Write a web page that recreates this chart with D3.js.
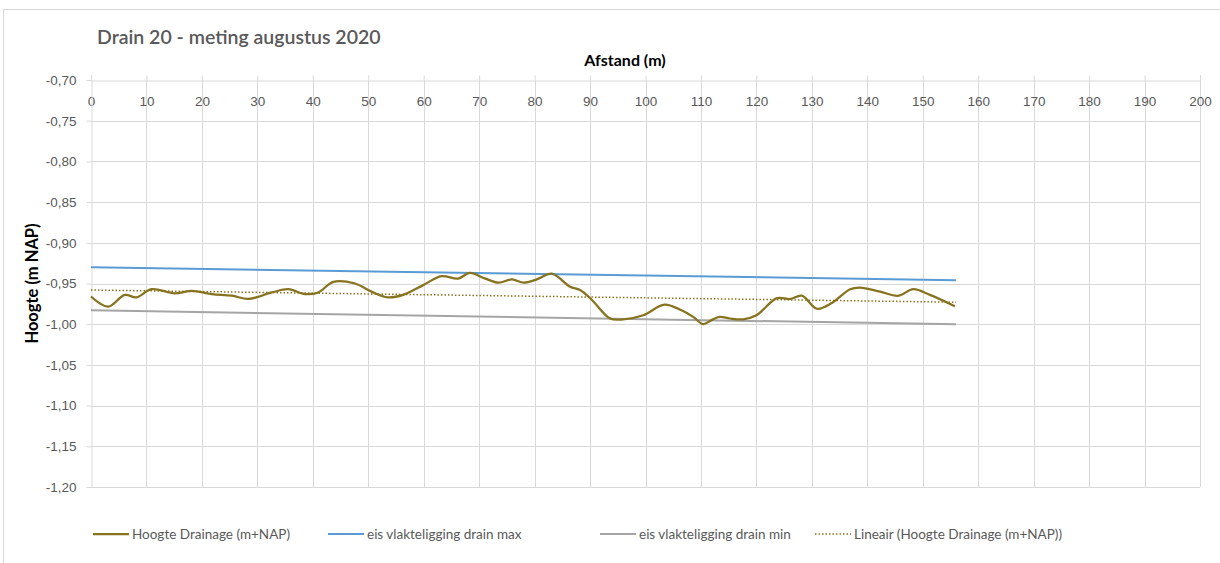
<!DOCTYPE html>
<html>
<head>
<meta charset="utf-8">
<script src="https://cdn.jsdelivr.net/npm/d3@7"></script>
<style>
  body { margin: 0; background: #fff; }
  svg { font-family: Lato, "Open Sans", sans-serif; }
</style>
</head>
<body>
<div id="chart"></div>
<script>
// measured drain profile (afstand in m, hoogte in m NAP)
const afstand = [0, 3.1, 6.1, 8.2, 10.9, 15.1, 18.2, 21.8, 25.4, 28.4, 32.6, 35.6, 38.6, 41, 43.7, 47.6,
  50.6, 53.5, 56.3, 59.9, 63.2, 66.2, 68.3, 71.1, 73.5, 75.9, 78, 80.4, 83.1, 86.4, 88.2, 90.3, 93.6,
  96, 99.6, 103.4, 106.2, 108.6, 110.4, 111.9, 113.4, 115.2, 117.6, 120, 123.7, 126.1, 128.2, 130.9,
  133.6, 136.9, 138.7, 142.3, 145.6, 148.3, 151.3, 155.8];
const hoogte = [-0.966, -0.9785, -0.964, -0.967, -0.957, -0.962, -0.959, -0.963, -0.965, -0.969, -0.961,
  -0.957, -0.963, -0.961, -0.948, -0.950, -0.960, -0.967, -0.964, -0.952, -0.941, -0.944, -0.937,
  -0.944, -0.949, -0.945, -0.949, -0.945, -0.938, -0.954, -0.958, -0.970, -0.993, -0.994, -0.989,
  -0.976, -0.982, -0.991, -1.000, -0.995, -0.991, -0.993, -0.994, -0.989, -0.968, -0.969, -0.965,
  -0.981, -0.974, -0.957, -0.955, -0.960, -0.965, -0.957, -0.964, -0.978];

const eisX = [0, 156];
const eisMax = [-0.930, -0.946];
const eisMin = [-0.983, -1.000];
const trendX = [0, 156];
const trendY = [-0.958, -0.973];

const xTicks = d3.range(0, 201, 10);
const yTicks = [-0.70, -0.75, -0.80, -0.85, -0.90, -0.95, -1.00, -1.05, -1.10, -1.15, -1.20];

const legendLabels = ['Hoogte Drainage (m+NAP)', 'eis vlakteligging drain max',
  'eis vlakteligging drain min', 'Lineair (Hoogte Drainage (m+NAP))'];

const olive = '#87731f';
const blue = '#5b9bd5';
const grey = '#a5a5a5';
const gridColor = '#d9d9d9';
const textColor = '#595959';

const outerWidth = 1220;
const outerHeight = 563;
const margin = { top: 80, left: 91, right: 20, bottom: 76 };
const width = 1200 - margin.left;
const height = 487 - margin.top;

const svg = d3.select('#chart').append('svg')
  .attr('width', outerWidth)
  .attr('height', outerHeight);

svg.append('rect')
  .attr('x', 3.5).attr('y', 9.5)
  .attr('width', 1230).attr('height', 570)
  .attr('fill', 'none').attr('stroke', gridColor);

const g = svg.append('g')
  .attr('transform', `translate(${margin.left}, ${margin.top})`);

const x = d3.scaleLinear().domain([0, 200]).range([0, width]);
const y = d3.scaleLinear().domain([-0.70, -1.20]).range([0, height]);

// gridlines
g.append('g')
  .selectAll('line.h')
  .data(yTicks.slice(1))
  .join('line')
  .attr('x1', 0).attr('x2', width)
  .attr('y1', d => Math.round(y(d)) + 0.5).attr('y2', d => Math.round(y(d)) + 0.5)
  .attr('stroke', gridColor);

g.append('g')
  .selectAll('line.v')
  .data(xTicks.slice(1))
  .join('line')
  .attr('x1', d => Math.round(x(d)) + 0.5).attr('x2', d => Math.round(x(d)) + 0.5)
  .attr('y1', 0).attr('y2', height)
  .attr('stroke', gridColor);

// axes
const xAxis = d3.axisTop(x).tickValues(xTicks).tickSize(5).tickFormat(d3.format('d'));
const yAxis = d3.axisLeft(y).tickValues(yTicks).tickSize(5)
  .tickFormat(d => d3.format('.2f')(d).replace('.', ',').replace('−', '-'));

const gx = g.append('g').attr('transform', 'translate(0, 0.5)').call(xAxis);
gx.select('.domain').attr('stroke', gridColor);
gx.selectAll('.tick line').attr('stroke', gridColor);
gx.selectAll('.tick text')
  .attr('y', 25).attr('dy', 0)
  .attr('fill', textColor).style('font-size', '13.5px');

const gy = g.append('g').attr('transform', 'translate(0.5, 0)').call(yAxis);
gy.select('.domain').attr('stroke', gridColor);
gy.selectAll('.tick line').attr('stroke', gridColor);
gy.selectAll('.tick text')
  .attr('x', -15)
  .attr('fill', textColor).style('font-size', '13.5px');

// series
const profile = afstand.map((d, i) => [d, hoogte[i]]);
const line = d3.line().x(d => x(d[0])).y(d => y(d[1]));
const smooth = d3.line().x(d => x(d[0])).y(d => y(d[1])).curve(d3.curveCatmullRom.alpha(0.5));

g.append('path')
  .attr('d', line(eisX.map((d, i) => [d, eisMax[i]])))
  .attr('fill', 'none').attr('stroke', blue).attr('stroke-width', 2);

g.append('path')
  .attr('d', line(eisX.map((d, i) => [d, eisMin[i]])))
  .attr('fill', 'none').attr('stroke', grey).attr('stroke-width', 2);

g.append('path')
  .attr('d', smooth(profile))
  .attr('fill', 'none').attr('stroke', olive).attr('stroke-width', 2.25);

g.append('path')
  .attr('d', line(trendX.map((d, i) => [d, trendY[i]])))
  .attr('fill', 'none').attr('stroke', olive)
  .attr('stroke-width', 1.5).attr('stroke-dasharray', '1.5,2');

// titles
svg.append('text')
  .attr('x', 97).attr('y', 44)
  .attr('fill', textColor)
  .style('font-size', '19.5px').style('font-weight', 600)
  .text('Drain 20 - meting augustus 2020');

svg.append('text')
  .attr('x', 625).attr('y', 66)
  .attr('text-anchor', 'middle')
  .style('font-size', '16px').style('font-weight', 700)
  .text('Afstand (m)');

svg.append('text')
  .attr('transform', `translate(38, ${margin.top + height / 2}) rotate(-90)`)
  .attr('text-anchor', 'middle')
  .style('font-size', '16.5px').style('font-weight', 700)
  .text('Hoogte (m NAP)');

// legend
const legendX = [93, 328, 600, 815];
const legendStyle = [
  { color: olive, w: 2.25, dash: null },
  { color: blue, w: 2, dash: null },
  { color: grey, w: 2, dash: null },
  { color: olive, w: 1.5, dash: '1.5,2' }
];
const legend = svg.append('g').attr('transform', 'translate(0, 534)');
legendLabels.forEach((label, i) => {
  legend.append('line')
    .attr('x1', legendX[i]).attr('x2', legendX[i] + 36)
    .attr('y1', 0).attr('y2', 0)
    .attr('stroke', legendStyle[i].color)
    .attr('stroke-width', legendStyle[i].w)
    .attr('stroke-dasharray', legendStyle[i].dash);
  legend.append('text')
    .attr('x', legendX[i] + 39).attr('y', 5)
    .attr('fill', textColor).style('font-size', '13.5px')
    .text(label);
});
</script>
</body>
</html>
